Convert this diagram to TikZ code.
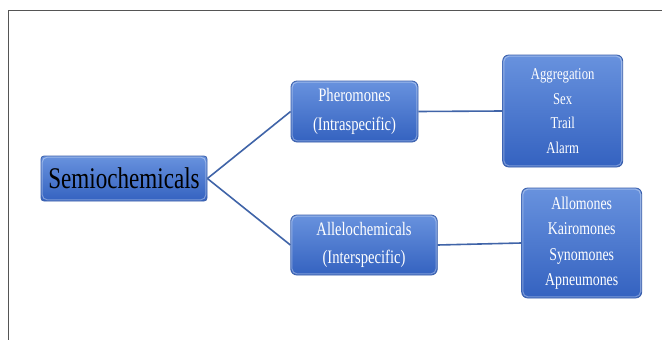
\documentclass[tikz,border=0pt]{standalone}
\usepackage{fontspec}
\setmainfont[FakeStretch=0.77]{Liberation Serif}
\begin{document}
\begin{tikzpicture}[x=1pt,y=-1pt,
  blu/.style={rounded corners=6pt, top color=boxtop, bottom color=boxbot,
    draw=boxedge, line width=0.8pt, inner sep=0pt, align=center, text=white},
  bevel/.style={draw=white, opacity=0.35, line width=1pt, rounded corners=5pt},
  link/.style={draw=linkc, line width=1.6pt}]
\definecolor{boxtop}{RGB}{104,146,222}
\definecolor{boxbot}{RGB}{52,98,192}
\definecolor{boxedge}{RGB}{60,96,170}
\definecolor{linkc}{RGB}{64,100,168}
\definecolor{framec}{RGB}{85,85,85}
\useasboundingbox (0,0) rectangle (662,340);
\fill[white] (0,0) rectangle (662,340);
\draw[framec, line width=1.1pt] (8.5,340) -- (8.5,10.5) -- (662,10.5);

\node[blu, rounded corners=3pt, text=black, minimum width=166pt, minimum height=45pt,
  font=\fontsize{30}{32}\selectfont] (semi) at (124,178.5) {Semiochemicals};

\node[blu, minimum width=127pt, minimum height=61pt,
  font=\fontsize{19}{28.5}\selectfont] (pher) at (354.5,111.5)
  {Pheromones\\(Intraspecific)};

\node[blu, minimum width=146.5pt, minimum height=60pt,
  font=\fontsize{19}{28.5}\selectfont] (alle) at (364,245)
  {Allelochemicals\\(Interspecific)};

\node[blu, minimum width=120pt, minimum height=112pt,
  font=\fontsize{16.5}{24.5}\selectfont] (intra) at (562.7,111)
  {Aggregation\\Sex\\Trail\\Alarm};

\node[blu, minimum width=120pt, minimum height=110pt,
  font=\fontsize{18}{25.5}\selectfont] (inter) at (581.7,243)
  {Allomones\\Kairomones\\Synomones\\Apneumones};

\foreach \n in {semi,pher,alle,intra,inter}
  \draw[bevel] ([shift={(1.6,1.6)}]\n.north west) rectangle ([shift={(-1.6,-1.6)}]\n.south east);

\draw[link] (semi.east) -- (pher.west);
\draw[link] (semi.east) -- (alle.west);
\draw[link] (pher.east) -- (intra.west);
\draw[link] (alle.east) -- (inter.west);
\end{tikzpicture}
\end{document}
